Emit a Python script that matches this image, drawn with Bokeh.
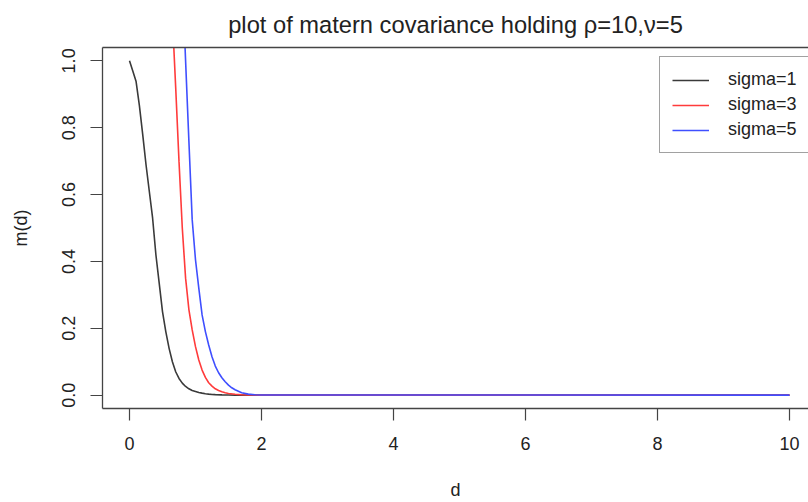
from bokeh.plotting import figure
from bokeh.models import (Range1d, FixedTicker, LinearAxis, Legend, LegendItem,
                          Title, NumeralTickFormatter)
from bokeh.embed import file_html
from bokeh.resources import INLINE

# Matern covariance m(d) for rho=10, nu=5 and three values of sigma
d_sigma1 = [0.00, 0.05, 0.10, 0.15, 0.20, 0.25, 0.30, 0.35, 0.40, 0.45, 0.50,
            0.55, 0.60, 0.65, 0.70, 0.75, 0.80, 0.85, 0.90, 0.95, 1.00, 1.05,
            1.10, 1.15, 1.20, 1.25, 1.30, 1.40, 1.50, 1.60, 1.80, 2.00, 10.0]
m_sigma1 = [1.000, 0.970, 0.938, 0.866, 0.780, 0.690, 0.610, 0.530, 0.420,
            0.335, 0.250, 0.190, 0.140, 0.100, 0.070, 0.050, 0.036, 0.026,
            0.019, 0.014, 0.011, 0.008, 0.006, 0.0042, 0.003, 0.002, 0.0014,
            0.0007, 0.0003, 0.0001, 0.0, 0.0, 0.0]

d_sigma3 = [0.55, 0.60, 0.65, 0.70, 0.75, 0.80, 0.85, 0.90, 0.95, 1.00, 1.05,
            1.10, 1.15, 1.20, 1.25, 1.30, 1.35, 1.40, 1.45, 1.50, 1.60, 1.70,
            1.80, 1.90, 2.00, 10.0]
m_sigma3 = [1.60, 1.35, 1.13, 0.92, 0.70, 0.50, 0.35, 0.256, 0.195, 0.145,
            0.105, 0.075, 0.053, 0.037, 0.027, 0.019, 0.014, 0.010, 0.007,
            0.005, 0.0025, 0.0012, 0.0005, 0.0002, 0.0001, 0.0]

d_sigma5 = [0.75, 0.80, 0.85, 0.90, 0.95, 1.00, 1.05, 1.10, 1.15, 1.20, 1.25,
            1.30, 1.35, 1.40, 1.45, 1.50, 1.55, 1.60, 1.70, 1.80, 1.90, 2.00,
            10.0]
m_sigma5 = [1.55, 1.25, 1.00, 0.76, 0.525, 0.405, 0.32, 0.24, 0.19, 0.15,
            0.115, 0.087, 0.067, 0.052, 0.040, 0.030, 0.022, 0.016, 0.007,
            0.003, 0.0013, 0.0005, 0.0]

series_labels = ["sigma=1", "sigma=3", "sigma=5"]
series_colors = ["#3a3a3a", "#ff3b3b", "#3f4fff"]

x_ticks = [0, 2, 4, 6, 8, 10]
y_ticks = [0.0, 0.2, 0.4, 0.6, 0.8, 1.0]

title_text = "plot of matern covariance holding \u03c1=10,\u03bd=5"

FONT = "Liberation Sans"
INK = "#222222"
FRAME = "#444444"

p = figure(width=808, height=502, output_backend="svg", toolbar_location=None,
           x_range=Range1d(-0.409, 10.288), y_range=Range1d(-0.04, 1.04),
           min_border_left=102, min_border_right=0, min_border_top=47,
           min_border_bottom=93, background_fill_color="white",
           border_fill_color="white", outline_line_color=None)
p.grid.visible = False

# axes
for ax in (p.xaxis[0], p.yaxis[0]):
    ax.axis_line_color = FRAME
    ax.axis_line_width = 1.3
    ax.major_tick_line_color = FRAME
    ax.major_tick_line_width = 1.2
    ax.major_tick_in = 0
    ax.major_tick_out = 12
    ax.minor_tick_line_color = None
    ax.major_label_text_font = FONT
    ax.major_label_text_font_size = "18px"
    ax.major_label_text_color = INK
    ax.axis_label_text_font = FONT
    ax.axis_label_text_font_size = "18px"
    ax.axis_label_text_font_style = "normal"
    ax.axis_label_text_color = INK

p.xaxis.ticker = FixedTicker(ticks=x_ticks)
p.xaxis.axis_label = "d"
p.xaxis.major_label_standoff = 16
p.xaxis.axis_label_standoff = 27

p.yaxis.ticker = FixedTicker(ticks=y_ticks)
p.yaxis.formatter = NumeralTickFormatter(format="0.0")
p.yaxis.axis_label = "m(d)"
p.yaxis.major_label_orientation = "vertical"
p.yaxis.major_label_standoff = 15
p.yaxis.axis_label_standoff = 29

# top edge of the plot box
top = LinearAxis(ticker=FixedTicker(ticks=[]), axis_line_color=FRAME,
                 axis_line_width=1.3, major_tick_out=0, major_tick_in=0,
                 minor_tick_out=0, minor_tick_in=0, major_label_standoff=0,
                 axis_label_standoff=0, major_label_text_font_size="0px")
p.add_layout(top, "above")

p.add_layout(Title(text=title_text, align="center", text_font=FONT,
                   text_font_size="23.7px", text_font_style="normal",
                   text_color=INK, standoff=19, offset=4),
             "above")

renderers = []
for d, m, color in zip([d_sigma1, d_sigma3, d_sigma5],
                       [m_sigma1, m_sigma3, m_sigma5], series_colors):
    r = p.line(d, m, line_color=color, line_width=1.6)
    renderers.append(r)

# legend box runs on past the right edge of the page
legend = Legend(items=[LegendItem(label=lab, renderers=[r])
                       for lab, r in zip(series_labels, renderers)],
                location=(557, 255), padding=12, spacing=4, margin=0,
                glyph_width=37, glyph_height=20, label_height=20,
                label_width=100, label_standoff=19, label_text_font=FONT,
                label_text_font_size="18px", label_text_color=INK,
                border_line_color=FRAME, border_line_width=1.3,
                background_fill_color="white", background_fill_alpha=1.0)
p.add_layout(legend, "center")

open("out.html", "w").write(file_html(p, INLINE))
